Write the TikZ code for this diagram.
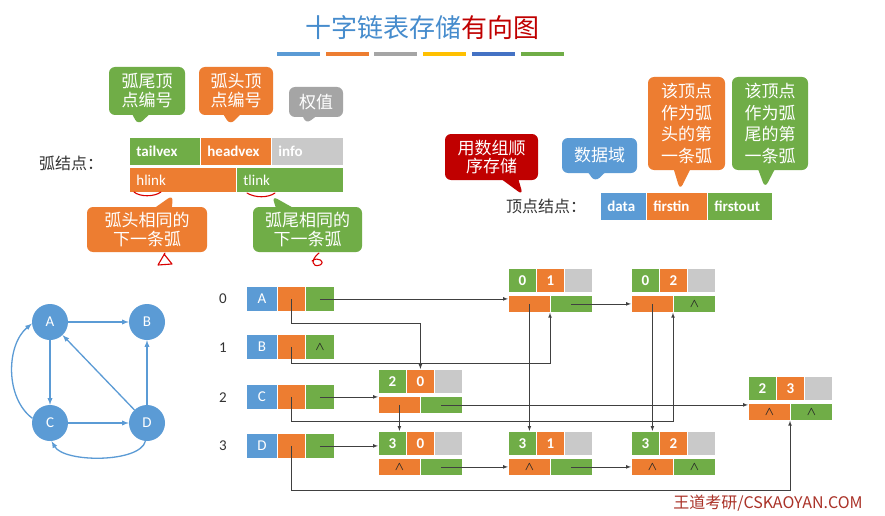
\documentclass[tikz,border=0pt]{standalone}
\usepackage{fontspec}
\setmainfont{Carlito}
\newfontfamily\cjk{Noto Sans CJK SC}
\usetikzlibrary{shapes.callouts}

\definecolor{cblue}{RGB}{91,155,213}
\definecolor{corange}{RGB}{237,125,49}
\definecolor{cgreen}{RGB}{112,173,71}
\definecolor{cgray}{RGB}{201,201,201}
\definecolor{cdgray}{RGB}{165,165,165}
\definecolor{cyellow}{RGB}{255,192,0}
\definecolor{cnavy}{RGB}{68,114,196}
\definecolor{cred}{RGB}{192,0,0}
\definecolor{ctitle}{RGB}{70,140,205}
\definecolor{ccredit}{RGB}{170,50,40}

% empty pointer
\newcommand{\nil}{{\color{black!85}\fontsize{13}{13}\selectfont\boldmath$\wedge$}}
% arc node of the orthogonal list: name, x, y, tail, head, hlink, tlink
\newcommand{\crossarc}[7]{%
  \node[cell, fill=cgreen,  minimum width=28pt, minimum height=24pt] (#1t)  at (#2,#3)       {#4};
  \node[cell, fill=corange, minimum width=28pt, minimum height=24pt] (#1h)  at (#2+28,#3)    {#5};
  \node[cell, fill=cgray,   minimum width=28pt, minimum height=24pt] (#1i)  at (#2+56,#3)    {};
  \node[cell, fill=corange, minimum width=42pt, minimum height=17pt] (#1hl) at (#2,#3+27)    {#6};
  \node[cell, fill=cgreen,  minimum width=42pt, minimum height=17pt] (#1tl) at (#2+42,#3+27) {#7};
}

\begin{document}
\begin{tikzpicture}[x=1pt, y=-1pt,
    cell/.style={anchor=north west, draw=white, line width=0.8pt, inner sep=0pt,
                 text=white, font=\bfseries\fontsize{15}{15}\selectfont},
    fld/.style={anchor=north west, draw=white, line width=0.8pt, inner xsep=7pt, inner ysep=0pt,
                text=white, align=left, font=\bfseries\fontsize{15}{15}\selectfont},
    note/.style={rectangle callout, rounded corners=6pt, text=white, align=center,
                 inner sep=2pt, callout pointer width=16pt, font=\cjk\fontsize{17}{19}\selectfont},
    vtx/.style={circle, fill=cblue, minimum size=36pt, inner sep=0pt, text=white,
                font=\fontsize{15}{15}\selectfont},
    gedge/.style={->, >=latex, draw=cblue, line width=1.3pt},
    ptr/.style={->, >=latex, draw=black!75, line width=0.7pt},
    lbl/.style={font=\cjk\fontsize{16}{16}\selectfont, text=black!80},
    scribble/.style={draw=red!85!black, line width=1.1pt, line cap=round, line join=round},
  ]
  \path[use as bounding box, fill=white] (0,0) rectangle (885,516);

  % title
  \node[font=\cjk\fontsize{26}{26}\selectfont] (title) at (422,28)
    {\textcolor{ctitle}{十字链表存储}\textcolor{cred}{有向图}};
  \foreach \c [count=\i from 0] in {cblue,corange,cdgray,cyellow,cnavy,cgreen}
    \fill[\c] (277+\i*48.7,52) rectangle ++(43,4);

  % arc node layout
  \node[lbl] (arclbl) at (71,163) {弧结点：};
  \node[fld, fill=cgreen,  text width=57pt, minimum height=28pt] (tailvex) at (129,137) {tailvex};
  \node[fld, fill=corange, text width=57pt, minimum height=28pt] (headvex) at (200,137) {headvex};
  \node[fld, fill=cgray,   text width=58pt, minimum height=28pt] (info)    at (271,137) {info};
  \node[fld, fill=corange, text width=93pt, minimum height=25pt, font=\fontsize{15}{15}\selectfont] (hlink) at (129,167) {hlink};
  \node[fld, fill=cgreen,  text width=93pt, minimum height=25pt, font=\fontsize{15}{15}\selectfont] (tlink) at (236,167) {tlink};

  \node[note, fill=cgreen,  minimum width=76pt, minimum height=48pt,
        callout absolute pointer={(138,125)}] (ntail) at (147,91) {弧尾顶\\点编号};
  \node[note, fill=corange, minimum width=74pt, minimum height=48pt,
        callout absolute pointer={(230,125)}] (nhead) at (236,91) {弧头顶\\点编号};
  \node[note, fill=cdgray,  minimum width=54pt, minimum height=30pt, callout pointer width=12pt,
        callout absolute pointer={(306,124)}] (ninfo) at (316,102) {权值};
  \node[note, fill=corange, minimum width=120pt, minimum height=45pt,
        callout absolute pointer={(173,195)}] (nhlink) at (147,229.5) {弧头相同的\\下一条弧};
  \node[note, fill=cgreen,  minimum width=109pt, minimum height=45pt,
        callout absolute pointer={(272,196)}] (ntlink) at (307.5,229.5) {弧尾相同的\\下一条弧};

  % red pen marks
  \draw[scribble] (134,192) .. controls (140,197) and (154,197) .. (161,192);
  \draw[scribble] (247,193) .. controls (255,198) and (268,198) .. (275,193);
  \draw[scribble] (165,253) -- (158,265) -- (172,264) -- (164,254);
  \draw[scribble] (319,253) .. controls (310,260) and (312,268) .. (320,265)
                  .. controls (326,262) and (318,256) .. (312,261);

  % vertex node layout
  \node[note, fill=cred, minimum width=93pt, minimum height=46pt, font=\cjk\fontsize{17}{18}\selectfont,
        callout absolute pointer={(523,195)}] (narray) at (491.5,157) {用数组顺\\序存储};
  \node[note, fill=cblue, minimum width=75pt, minimum height=35pt,
        callout absolute pointer={(595,182)}] (ndata) at (599.5,155.5) {数据域};
  \node[note, fill=corange, minimum width=77pt, minimum height=93pt, font=\cjk\fontsize{17}{21.5}\selectfont,
        callout absolute pointer={(680,190)}] (nfirstin) at (686.5,123.5) {该顶点\\作为弧\\头的第\\一条弧};
  \node[note, fill=cgreen, minimum width=76pt, minimum height=93pt, font=\cjk\fontsize{17}{21.5}\selectfont,
        callout absolute pointer={(765,188)}] (nfirstout) at (770,123.5) {该顶点\\作为弧\\尾的第\\一条弧};

  \node[lbl] (vexlbl) at (546,206) {顶点结点：};
  \node[fld, fill=cblue,   text width=32pt, minimum height=28pt] (data)     at (600,192) {data};
  \node[fld, fill=corange, text width=47pt, minimum height=28pt] (firstin)  at (646,192) {firstin};
  \node[fld, fill=cgreen,  text width=51pt, minimum height=28pt] (firstout) at (707,192) {firstout};

  % the graph
  \node[vtx] (A) at (50,322)  {A};
  \node[vtx] (B) at (147,322) {B};
  \node[vtx] (C) at (50,423)  {C};
  \node[vtx] (D) at (147,423) {D};
  \draw[gedge] (A) -- (B);
  \draw[gedge] (A) -- (C);
  \draw[gedge] (C) -- (D);
  \draw[gedge] (D) -- (B);
  \draw[gedge] (D) -- (A);
  \draw[gedge] (C.165) .. controls (5,398) and (6,345) .. (A.185);
  \draw[gedge] (D.265) .. controls (140,463) and (64,463) .. (C.-85);

  % vertex table
  \node[lbl, font=\fontsize{15}{15}\selectfont] (i0) at (223,299) {0};
  \node[lbl, font=\fontsize{15}{15}\selectfont] (i1) at (223,348) {1};
  \node[lbl, font=\fontsize{15}{15}\selectfont] (i2) at (223,398) {2};
  \node[lbl, font=\fontsize{15}{15}\selectfont] (i3) at (223,446) {3};
  \foreach \v/\y/\o in {A/286/, B/334/\nil, C/384/, D/433/} {
    \node[cell, fill=cblue,   minimum width=31pt, minimum height=25pt, font=\fontsize{15}{15}\selectfont]
      (\v dat) at (246,\y) {\v};
    \node[cell, fill=corange, minimum width=28pt, minimum height=25pt] (\v in)  at (277,\y) {};
    \node[cell, fill=cgreen,  minimum width=29pt, minimum height=25pt] (\v out) at (305,\y) {\o};
  }

  % arc nodes
  \crossarc{a01}{508}{268}{0}{1}{}{}
  \crossarc{a02}{631}{268}{0}{2}{}{\nil}
  \crossarc{a20}{378}{369}{2}{0}{}{}
  \crossarc{a23}{748}{376}{2}{3}{\nil}{\nil}
  \crossarc{a30}{378}{431}{3}{0}{\nil}{}
  \crossarc{a31}{508}{431}{3}{1}{\nil}{}
  \crossarc{a32}{631}{431}{3}{2}{\nil}{\nil}

  % pointers
  \draw[ptr] (Aout.center) -- (Aout.center -| a01hl.west);
  \draw[ptr] (Ain.center) -- ++(0,24) -| (a20h.north);
  \draw[ptr] (Bin.center) -- ++(0,16) -| (a01tl.south west);
  \draw[ptr] (Cout.center) -- (Cout.center -| a20hl.west);
  \draw[ptr] (Cin.center) -- ++(0,24) -| (a02tl.south west);
  \draw[ptr] (Dout.center) -- (Dout.center -| a30t.west);
  \draw[ptr] (Din.center) -- ++(0,44) -| (a23tl.south west);
  \draw[ptr] (a01hl.center) -- (a01hl.center |- a31t.north);
  \draw[ptr] (a01tl.center) -- (a01tl.center -| a02hl.west);
  \draw[ptr] (a02hl.center) -- (a02hl.center |- a32t.north);
  \draw[ptr] (a20hl.center) -- (a20hl.center |- a30t.north);
  \draw[ptr] (a20tl.center) -- (a20tl.center -| a23hl.west);
  \draw[ptr] (a30tl.center) -- (a30tl.center -| a31hl.west);
  \draw[ptr] (a31tl.center) -- (a31tl.center -| a32hl.west);

  \node[font=\cjk\fontsize{16}{16}\selectfont, text=ccredit] (credit) at (768,503) {王道考研/CSKAOYAN.COM};
\end{tikzpicture}
\end{document}
